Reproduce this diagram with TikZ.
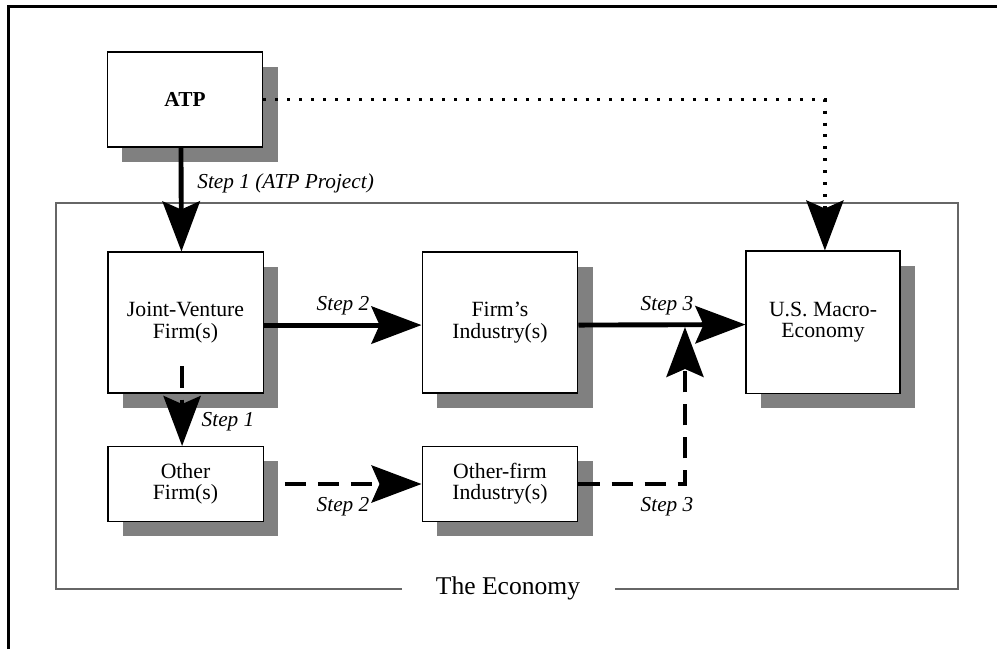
\documentclass[tikz,border=0pt]{standalone}
\usepackage{fontspec}
\setmainfont{Liberation Serif}
\usepackage{tikz}
\usetikzlibrary{arrows.meta, shadows, positioning}
\definecolor{shadowgray}{gray}{0.5}
\definecolor{framegray}{gray}{0.4}
\tikzset{
  unit/.style={draw=black, line width=0.5pt, fill=white, align=center, inner sep=2pt,
    font=\fontsize{10.2}{10}\selectfont,
    drop shadow={shadow xshift=7pt, shadow yshift=-7pt, fill=shadowgray, opacity=1}},
  bighead/.style={-{Stealth[length=23.5pt, width=17.5pt, inset=3.8pt]}},
  mainflow/.style={bighead, line width=2.3pt},
  sideflow/.style={bighead, line width=1.6pt, dash pattern=on 10pt off 5.5pt},
  fundflow/.style={bighead, line width=1.5pt, dash pattern=on 1.4pt off 4.2pt},
  steplabel/.style={font=\fontsize{10}{12}\selectfont\itshape, inner sep=0pt},
}
\begin{document}
\begin{tikzpicture}[x=0.4695pt, y=-0.4695pt]
\useasboundingbox (0,0) rectangle (997,649);
% outer frame (only its top and left edges show)
\draw[line width=1.4pt] (8.5,649) -- (8.5,6.5) -- (997,6.5);
% the economy, open at the bottom for its title
\draw[framegray, line width=0.6pt] (402,589) -- (56,589) -- (56,203) -- (958,203) -- (958,589) -- (615,589);
\node[font=\fontsize{12}{14}\selectfont] (economy) at (508,588) {The Economy};
% units
\node[unit, minimum width=73.2pt, minimum height=44.6pt, font=\fontsize{10}{10}\selectfont\bfseries] (atp) at (185,99.5) {ATP};
\node[unit, minimum width=72.8pt, minimum height=66.2pt] (jv) at (185.5,322.5) {Joint-Venture\\Firm(s)};
\node[unit, minimum width=73.2pt, minimum height=66.2pt] (fi) at (500,322.5) {Firm’s\\Industry(s)};
\node[unit, minimum width=72.3pt, minimum height=66.7pt] (us) at (823,322) {U.S. Macro-\\Economy};
\node[unit, minimum width=72.8pt, minimum height=35.2pt] (of) at (185.5,484) {Other\\Firm(s)};
\node[unit, minimum width=73.2pt, minimum height=35.2pt] (ofi) at (500,484) {Other-firm\\Industry(s)};
% flows
\draw[mainflow] ([xshift=-1.9pt]atp.south) -- ([xshift=-1.9pt]jv.north);
\draw[mainflow] ([yshift=-1.2pt]jv.east) -- ([yshift=-1.2pt]fi.west);
\draw[mainflow] ([yshift=-1.2pt]fi.east) -- ([yshift=-1.2pt]us.west);
\draw[sideflow] ([xshift=-1.6pt,yshift=12.7pt]jv.south) -- ([xshift=-1.6pt]of.north);
\draw[sideflow] ([xshift=10pt]of.east) -- (ofi.west);
\coordinate (merge) at (685,327);
\draw[sideflow] (ofi.east) -| (merge);
\draw[fundflow] (atp.east) -| ([xshift=0.9pt]us.north);
% step labels
\node[steplabel, anchor=west] (s1atp) at (197,183) {Step 1 (ATP Project)};
\node[steplabel] (s2top) at (343,306) {Step 2};
\node[steplabel] (s3top) at (667,306) {Step 3};
\node[steplabel] (s1low) at (228,422) {Step 1};
\node[steplabel] (s2low) at (343,507) {Step 2};
\node[steplabel] (s3low) at (667,507) {Step 3};
\end{tikzpicture}
\end{document}
